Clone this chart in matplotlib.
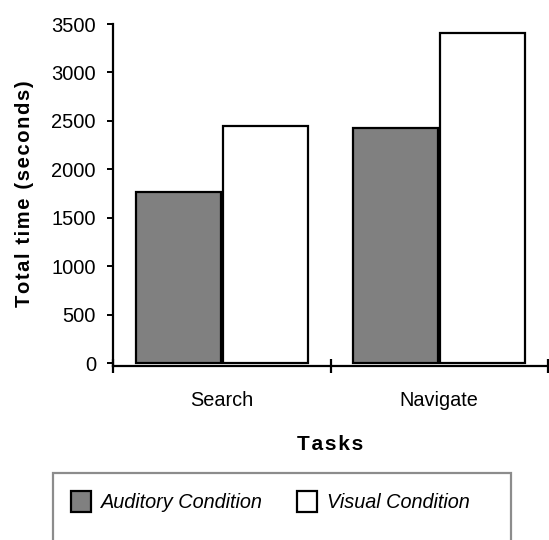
#!/usr/bin/env python3
"""Grouped bar chart: total task time per condition."""

import matplotlib

matplotlib.use("Agg")
import matplotlib.pyplot as plt
import numpy as np
from matplotlib.patches import Rectangle
from matplotlib.ticker import FixedLocator

tasks = ["Search", "Navigate"]
conditions = ["Auditory Condition", "Visual Condition"]
auditory = [1765, 2425]
visual = [2452, 3410]
y_ticks = [0, 500, 1000, 1500, 2000, 2500, 3000, 3500]

plt.rcParams["font.family"] = ["Liberation Sans", "DejaVu Sans"]


def spaced(label, gap="\u200a"):
    # loose tracking for the bold axis titles
    return gap.join(label)


W, H = 549, 540
fig = plt.figure(figsize=(W / 100, H / 100), dpi=100)
fig.patch.set_facecolor("white")
ax = fig.add_axes([113.3 / W, 1 - 365.7 / H, (547.7 - 113.3) / W, (365.7 - 24) / H])

x = np.arange(len(tasks))
width = 0.39
lw = 1.6
b1 = ax.bar(x - width / 2 - 0.005, auditory, width, color="#808080",
            edgecolor="black", linewidth=lw, label=conditions[0], zorder=2)
b2 = ax.bar(x + width / 2 + 0.005, visual, width, color="white",
            edgecolor="black", linewidth=lw, label=conditions[1], zorder=2)

ax.set_xlim(-0.5, len(tasks) - 0.5)
ax.set_ylim(-23, 3500)
ax.set_yticks(y_ticks)
ax.set_yticklabels([str(v) for v in y_ticks], fontsize=14.5)
ax.set_xticks(x)
ax.set_xticklabels(tasks, fontsize=14.3)
ax.xaxis.set_minor_locator(FixedLocator(np.arange(len(tasks) + 1) - 0.5))

for side in ("top", "right"):
    ax.spines[side].set_visible(False)
for side in ("left", "bottom"):
    ax.spines[side].set_linewidth(1.6)
ax.spines["left"].set_bounds(-23, 3500)

ax.tick_params(axis="y", direction="out", length=4.5, width=1.4, pad=8)
ax.tick_params(axis="x", which="major", length=0, pad=18)
ax.tick_params(axis="x", which="minor", direction="inout", length=10, width=1.6)

ax.set_xlabel(spaced("Tasks"), fontsize=15, fontweight="bold", labelpad=18)
fig.text(25 / W, 1 - 194 / H, spaced("Total time (seconds)"), rotation=90,
         fontsize=14.5, fontweight="bold", ha="center", va="center")

# legend box runs off the bottom of the canvas
frame = Rectangle((52.7 / W, -0.05), (511 - 52.7) / W, 0.05 + (H - 472.7) / H,
                  transform=fig.transFigure, facecolor="white",
                  edgecolor="#8c8c8c", linewidth=1.6, clip_on=False)
fig.add_artist(frame)
leg = fig.legend(handles=[b1, b2], loc="center left",
                 bbox_to_anchor=(71 / W, 1 - 501.5 / H), ncol=2, frameon=False,
                 prop={"size": 14.3, "style": "italic"}, handlelength=1.0,
                 handleheight=1.3, handletextpad=0.5, columnspacing=1.75,
                 borderpad=0, borderaxespad=0)

fig.savefig("out.png", dpi=100)
